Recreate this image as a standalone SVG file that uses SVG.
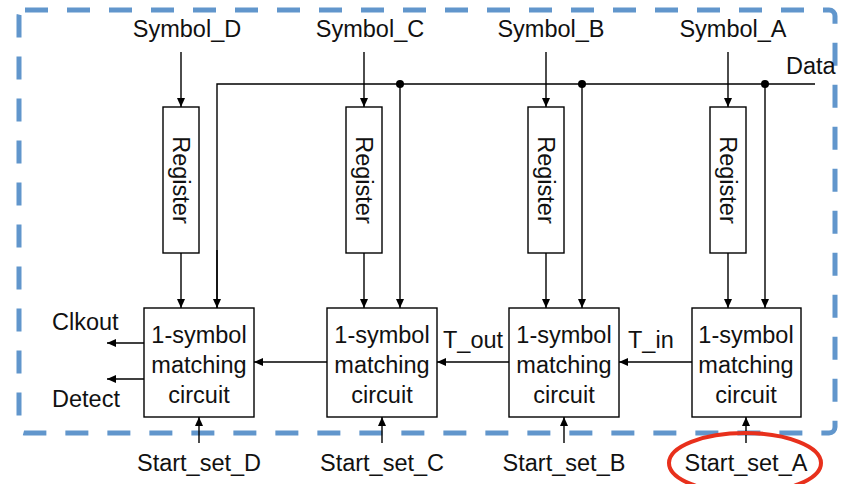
<svg xmlns="http://www.w3.org/2000/svg" width="846" height="484" viewBox="0 0 846 484">
<defs>
<marker id="ah" markerWidth="10" markerHeight="8" refX="9" refY="4" orient="auto" markerUnits="userSpaceOnUse">
<path d="M0,0 L9,4 L0,8 Z" fill="#000"/>
</marker>
<style>
text{font-family:"Liberation Sans",Arial,sans-serif;font-size:23.5px;fill:#111;}
.box{fill:#fff;stroke:#000;stroke-width:1.4;}
.w{stroke:#000;stroke-width:1.4;fill:none;}
.a{stroke:#000;stroke-width:1.4;fill:none;marker-end:url(#ah);}
.c{text-anchor:middle;}
</style>
</defs>
<rect x="19" y="10" width="816" height="423" rx="6" fill="none" stroke="#6196CC" stroke-width="5" stroke-dasharray="23 19"/>
<g id="labels">
<text class="c" x="187" y="37">Symbol_D</text>
<text class="c" x="370" y="37">Symbol_C</text>
<text class="c" x="551" y="37">Symbol_B</text>
<text class="c" x="733" y="37">Symbol_A</text>
<text x="786" y="74">Data</text>
<text x="52" y="330">Clkout</text>
<text x="52" y="407">Detect</text>
<text x="443" y="348">T_out</text>
<text x="628" y="348">T_in</text>
<text class="c" x="199" y="471">Start_set_D</text>
<text class="c" x="382" y="471">Start_set_C</text>
<text class="c" x="564" y="471">Start_set_B</text>
<text class="c" x="746" y="471">Start_set_A</text>
</g>
<g id="connectors">
<path class="w" d="M217,308 V84 H815"/>
<path class="a" d="M217,250 V308"/>
<path class="a" d="M400,84 V308"/>
<path class="a" d="M582,84 V308"/>
<path class="a" d="M765,84 V308"/>
<circle cx="400" cy="84" r="4" fill="#000"/>
<circle cx="582" cy="84" r="4" fill="#000"/>
<circle cx="765" cy="84" r="4" fill="#000"/>
<path class="a" d="M181,52 V107"/>
<path class="a" d="M364,52 V107"/>
<path class="a" d="M546,52 V107"/>
<path class="a" d="M728,52 V107"/>
<path class="a" d="M181,253 V308"/>
<path class="a" d="M364,253 V308"/>
<path class="a" d="M546,253 V308"/>
<path class="a" d="M728,253 V308"/>
<path class="a" d="M327,362 H254"/>
<path class="a" d="M509,362 H437"/>
<path class="a" d="M692,362 H619"/>
<path class="a" d="M144,343 H107"/>
<path class="a" d="M144,379 H107"/>
<path class="a" d="M199,443 V417"/>
<path class="a" d="M382,443 V417"/>
<path class="a" d="M564,443 V417"/>
<path class="a" d="M746,443 V417"/>
</g>
<g id="reg_D"><rect class="box" x="163" y="107" width="36" height="146"/><text class="c" transform="translate(181,180) rotate(90)" y="8">Register</text></g>
<g id="reg_C"><rect class="box" x="346" y="107" width="36" height="146"/><text class="c" transform="translate(364,180) rotate(90)" y="8">Register</text></g>
<g id="reg_B"><rect class="box" x="528" y="107" width="36" height="146"/><text class="c" transform="translate(546,180) rotate(90)" y="8">Register</text></g>
<g id="reg_A"><rect class="box" x="710" y="107" width="36" height="146"/><text class="c" transform="translate(728,180) rotate(90)" y="8">Register</text></g>
<g id="match_D"><rect class="box" x="144" y="308" width="110" height="109"/><text class="c" x="199" y="343">1-symbol</text><text class="c" x="199" y="373">matching</text><text class="c" x="199" y="403">circuit</text></g>
<g id="match_C"><rect class="box" x="327" y="308" width="110" height="109"/><text class="c" x="382" y="343">1-symbol</text><text class="c" x="382" y="373">matching</text><text class="c" x="382" y="403">circuit</text></g>
<g id="match_B"><rect class="box" x="509" y="308" width="110" height="109"/><text class="c" x="564" y="343">1-symbol</text><text class="c" x="564" y="373">matching</text><text class="c" x="564" y="403">circuit</text></g>
<g id="match_A"><rect class="box" x="692" y="308" width="109" height="109"/><text class="c" x="746" y="343">1-symbol</text><text class="c" x="746" y="373">matching</text><text class="c" x="746" y="403">circuit</text></g>
<ellipse cx="745" cy="463" rx="76" ry="30" fill="none" stroke="#E8301C" stroke-width="4"/>
</svg>
